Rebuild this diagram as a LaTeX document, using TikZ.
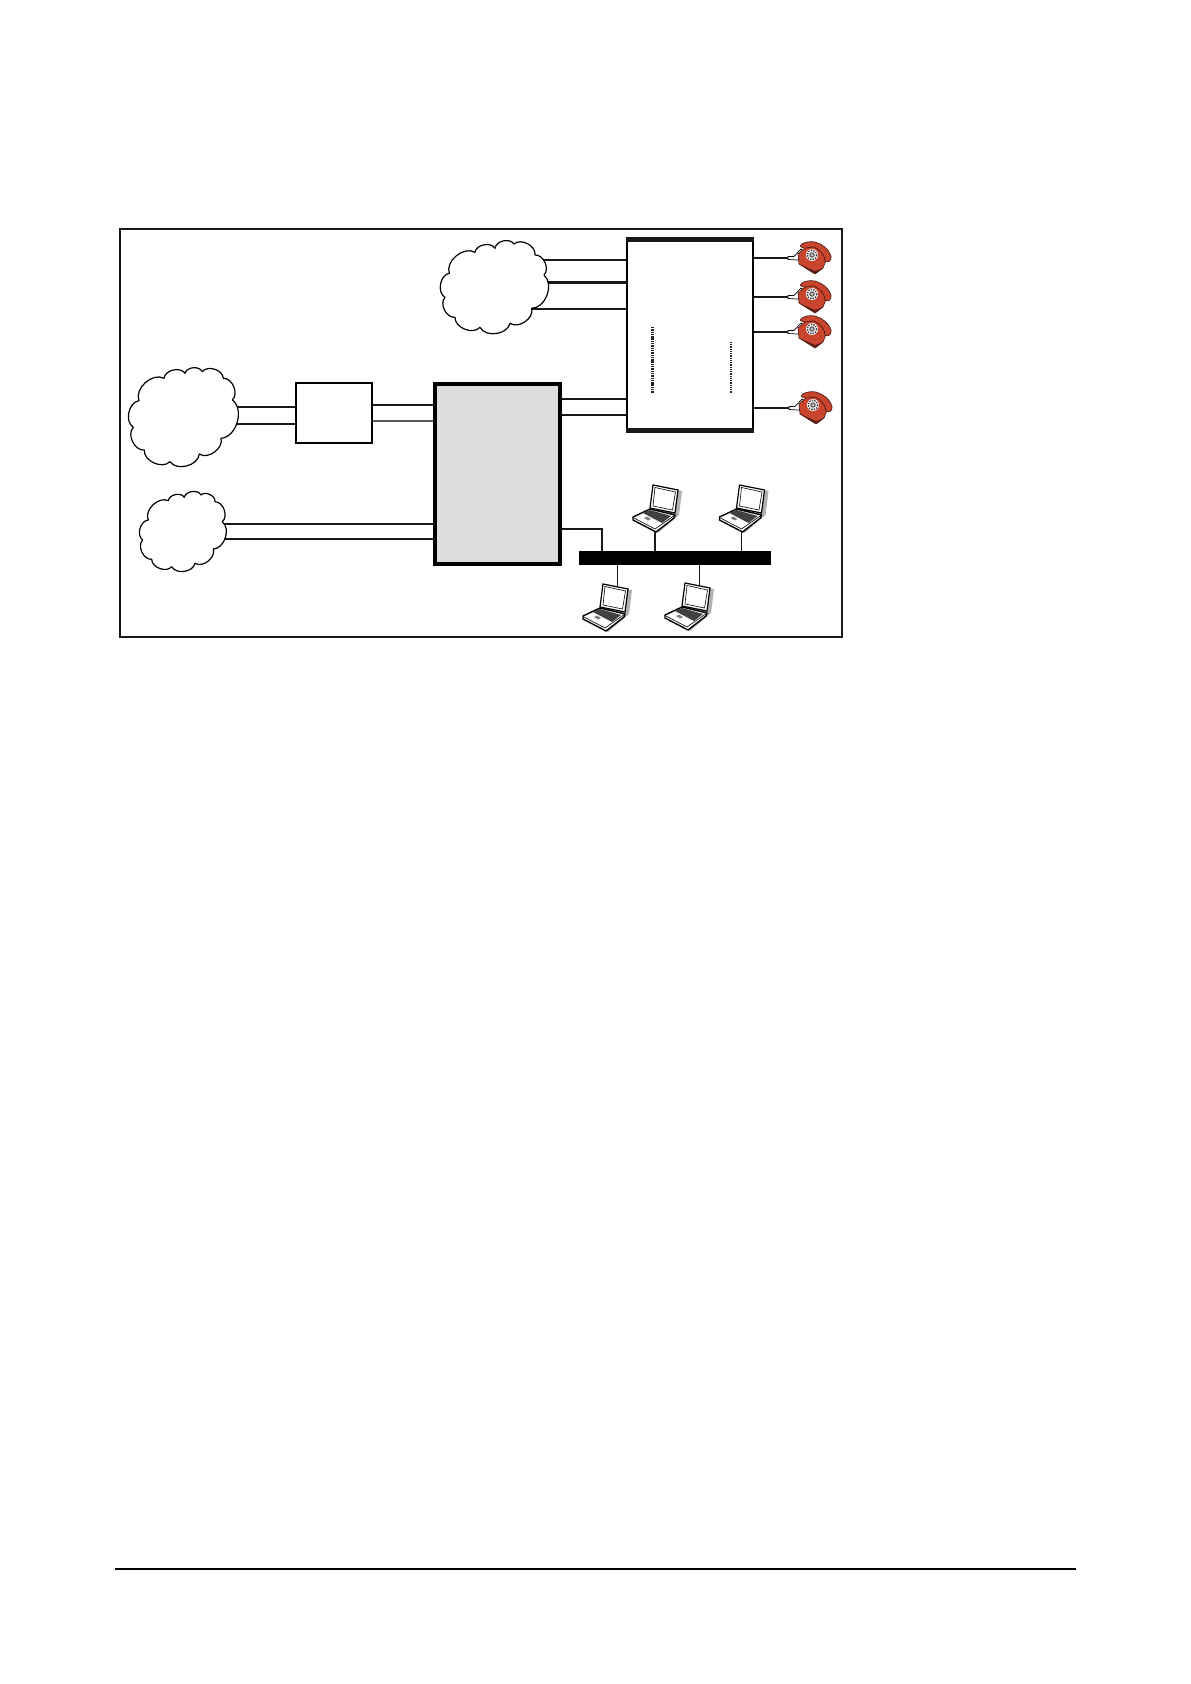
\documentclass[tikz,border=0pt]{standalone}
\usepackage{tikz}
\usetikzlibrary{backgrounds}

\definecolor{phonered}{HTML}{C9452E}
\definecolor{unitgray}{HTML}{DDDDDD}

\tikzset{
    wire/.style={line width=1pt,black!90},
    thinwire/.style={line width=0.6pt,black!90},
    puffy/.style={draw,fill=white,line width=0.6pt,line join=round,every to/.style={bend left=70,looseness=1}},
    plainbox/.style={draw,fill=white,line width=0.9pt,inner sep=0pt},
    phone/.pic={
        \coordinate (-jack) at (-24,0);
        % Cord
        \draw[line width=0.35pt,fill=white] (-24,-1.5) -- (-18,-1.5) -- (-11,-9) -- (-8,-6) -- (-11,-3) -- (-8,1) -- (-15,2) -- (-24,1.5) -- cycle;
        % Base
        \fill[phonered,draw=black!70!phonered,line width=0.3pt] (-14,-4) -- (-6,-11) -- (4,-13) -- (15,0) -- (11,10) -- (3,16) -- (-13,6) -- cycle;
        \fill[black!55!phonered] (-13,6) -- (3,16) -- (11,10) -- (3,13) -- cycle;
        % Handset
        \fill[phonered,draw=black!70!phonered,line width=0.3pt] (-12,-12) .. controls (-10,-16) and (-2,-17) .. (3,-16) .. controls (10,-14) and (17,-9) .. (19,-2) .. controls (20,3) and (16,5) .. (13,3) .. controls (13,-3) and (8,-8) .. (2,-11) .. controls (-4,-11) and (-9,-8) .. (-12,-12) -- cycle;
        % Dial
        \fill[white] (0,-3) circle[radius=6];
        \draw[black!80,line width=0.7pt,dash pattern=on 0.7pt off 0.6pt] (0,-3) circle[radius=4.8];
        \draw[black!70,fill=black!25,line width=0.5pt] (0,-3) circle[radius=2.2];
    },
    laptop/.pic={
        \coordinate (-foot) at (0,23.5);
        \coordinate (-head) at (12.5,-21);
        % Shadow
        \fill[black!30] (1,-22) -- (27,-17) -- (24,7) -- (3,25) -- (-16,15) -- (-2,3) -- cycle;
        % Lid
        \draw[line width=0.6pt,fill=white] (-2,-23) -- (23,-18) -- (20,5) -- (-5,0) -- cycle;
        \draw[line width=0.3pt] (0,-20.5) -- (20.5,-16) -- (17.5,2) -- (-2,-2) -- cycle;
        % Base
        \draw[line width=0.7pt,fill=white,line join=round] (-22,9) -- (-5,1) -- (20,7) -- (19,10) -- (1,24) -- (-22,12) -- cycle;
        \draw[line width=0.3pt] (-22,9.5) -- (0,21) -- (20,7);
        % Keys
        \fill[black!75] (-12,5) -- (-5,2) -- (16,8) -- (7,15) -- cycle;
        \fill[black!50] (-11,10) -- (-8,8.5) -- (-4,11) -- (-7,12.5) -- cycle;
    },
}

\begin{document}
\begin{tikzpicture}[x=0.5pt,y=-0.5pt]
    \useasboundingbox (0,0) rectangle (1190,1684);

    % Outer frame and page rule
    \draw[line width=0.9pt,black!90] (120,229) rectangle (842,637);
    \coordinate (ruleL) at (115,1569);
    \coordinate (ruleR) at (1076,1569);
    \draw[line width=0.55pt] (ruleL) -- (ruleR);

    % Clouds
    \coordinate (cloudT) at (495,289);
    \coordinate (cloudL) at (182,417);
    \coordinate (cloudB) at (182,533);
    \draw[puffy] (475,252.3) to (495,248.3) to (514,244) to (535,255) to (544,275) to (531.7,308.3)
        to (510,323.3) to (480,327.3) to (455,317.3) to (445,297.3) to (449.3,273.3) to (475,252.3) -- cycle;
    \draw[puffy] (164,378.3) to (185,373.3) to (202.3,371.7) to (223.3,378.3) to (232.3,400) to (221,438.3)
        to (199.3,454) to (170,461.7) to (144.3,450) to (133.3,427.3) to (139,400.7) to (164,378.3) -- cycle;
    \draw[puffy] (168.3,500.7) to (184.3,497.3) to (201,495) to (215,501.7) to (222.3,521.7) to (213.3,549)
        to (195,563.3) to (171.7,566.7) to (151.7,559.3) to (142.7,540) to (148.3,520) to (168.3,500.7) -- cycle;

    % Boxes
    \node[plainbox,minimum width=38pt,minimum height=30pt] (gate) at (334,413) {};
    \node[draw,fill=white,line width=1.4pt,inner sep=0pt,minimum width=63pt,minimum height=94pt] (pbx) at (690,335) {};
    \node[draw,fill=unitgray,line width=1.9pt,inner sep=0pt,minimum width=62.8pt,minimum height=90.3pt] (server) at (497.5,474) {};
    \node[fill=black,inner sep=0pt,minimum width=96pt,minimum height=7pt] (bus) at (675,558) {};

    % Thick top and bottom of the pbx box
    \draw[line width=2.5pt,black!90] (pbx.north west) -- (pbx.north east);
    \draw[line width=2.5pt,black!90] (pbx.south west) -- (pbx.south east);

    % Line levels
    \coordinate (topA) at (0,260);
    \coordinate (topB) at (0,283);
    \coordinate (topC) at (0,309);
    \coordinate (leftA) at (0,407);
    \coordinate (leftB) at (0,424);
    \coordinate (gateA) at (0,405);
    \coordinate (gateB) at (0,421);
    \coordinate (lowA) at (0,524);
    \coordinate (lowB) at (0,539);
    \coordinate (trunkA) at (0,399);
    \coordinate (trunkB) at (0,415);
    \coordinate (lanY) at (0,529);
    \coordinate (lanX) at (602,0);

    % Trunks, behind the clouds
    \begin{scope}[on background layer]
        \draw[wire] (cloudT |- topA) -- (pbx.west |- topA);
        \draw[wire,line width=1.5pt] (cloudT |- topB) -- (pbx.west |- topB);
        \draw[wire] (cloudT |- topC) -- (pbx.west |- topC);
        \draw[wire] (cloudL |- leftA) -- (gate.west |- leftA);
        \draw[wire] (cloudL |- leftB) -- (gate.west |- leftB);
        \draw[wire] (gate.east |- gateA) -- (server.west |- gateA);
        \draw[wire,black!65] (gate.east |- gateB) -- (server.west |- gateB);
        \draw[wire] (cloudB |- lowA) -- (server.west |- lowA);
        \draw[wire] (cloudB |- lowB) -- (server.west |- lowB);
    \end{scope}
    \draw[wire] (server.east |- trunkA) -- (pbx.west |- trunkA);
    \draw[wire] (server.east |- trunkB) -- (pbx.west |- trunkB);
    \draw[wire] (server.east |- lanY) -- (lanX |- lanY) -- (lanX |- bus.north);

    % Phones
    \pic (phoneA) at (812,258) {phone};
    \pic (phoneB) at (812,297) {phone};
    \pic (phoneC) at (812,332) {phone};
    \pic (phoneD) at (813,408) {phone};
    \foreach \ph in {phoneA,phoneB,phoneC,phoneD}
        \draw[wire] (pbx.east |- \ph-jack) -- (\ph-jack);

    % Laptops
    \pic (lapA) at (655,508) {laptop};
    \pic (lapB) at (741.5,508) {laptop};
    \pic (lapC) at (605,607) {laptop};
    \pic (lapD) at (687,606) {laptop};
    \draw[wire] (lapA-foot) -- (lapA-foot |- bus.north);
    \draw[thinwire] (lapB-foot) -- (lapB-foot |- bus.north);
    \draw[thinwire] (lapC-head) -- (lapC-head |- bus.south);
    \draw[thinwire] (lapD-head) -- (lapD-head |- bus.south);

    % Dotted runs inside the pbx box
    \coordinate (dotsA) at (652,327);
    \coordinate (dotsB) at (731,342);
    \coordinate (dotsEnd) at (0,393);
    \draw[line width=1.5pt,black!85,dash pattern=on 0.7pt off 0.45pt] (dotsA) -- (dotsA |- dotsEnd);
    \draw[line width=1pt,black!85,dash pattern=on 0.5pt off 0.4pt] (dotsB) -- (dotsB |- dotsEnd);
\end{tikzpicture}
\end{document}
